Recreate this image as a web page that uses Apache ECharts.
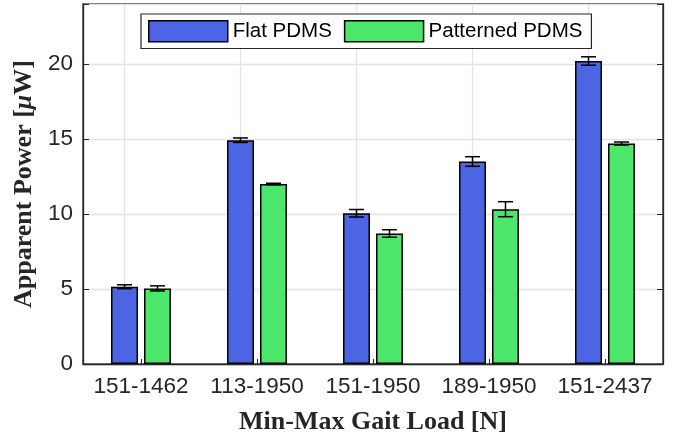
<!DOCTYPE html>
<html>
<head>
<meta charset="utf-8">
<script src="https://cdn.jsdelivr.net/npm/echarts@6/dist/echarts.min.js"></script>
<style>html,body{margin:0;padding:0;background:#fff}#c{width:682px;height:443px}</style>
</head>
<body>
<div id="c"></div>
<script>
var categories = ['151-1462', '113-1950', '151-1950', '189-1950', '151-2437'];
var flatValues = [5.15, 14.92, 10.05, 13.5, 20.2];
var flatErrors = [0.13, 0.15, 0.25, 0.32, 0.28];
var patternedValues = [5.04, 12.0, 8.7, 10.32, 14.7];
var patternedErrors = [0.17, 0.05, 0.25, 0.5, 0.1];
var seriesNames = ['Flat PDMS', 'Patterned PDMS'];
var yTicks = [0, 5, 10, 15, 20];

var BLUE = '#4B65E3', GREEN = '#4CE66B', INK = '#262626', GRID = '#E3E3E3';
var BAR_W = 27, BAR_GAP = 6;

function errData(vals, errs) {
  return vals.map(function (v, i) { return [i, v - errs[i], v + errs[i]]; });
}
function errSeries(vals, errs, sign) {
  return {
    type: 'custom',
    z: 5,
    silent: true,
    data: errData(vals, errs),
    encode: { x: 0, y: [1, 2] },
    renderItem: function (params, api) {
      var off = sign * (BAR_W + BAR_GAP) / 2;
      var lo = api.coord([api.value(0), api.value(1)]);
      var hi = api.coord([api.value(0), api.value(2)]);
      var x = lo[0] + off, cap = 7.5;
      var st = { stroke: '#000', lineWidth: 1.5, fill: null };
      return {
        type: 'group',
        children: [
          { type: 'line', shape: { x1: x, y1: lo[1], x2: x, y2: hi[1] }, style: st },
          { type: 'line', shape: { x1: x - cap, y1: lo[1], x2: x + cap, y2: lo[1] }, style: st },
          { type: 'line', shape: { x1: x - cap, y1: hi[1], x2: x + cap, y2: hi[1] }, style: st }
        ]
      };
    }
  };
}

var chart = echarts.init(document.getElementById('c'), null, { renderer: 'canvas' });
var labelFont = { fontFamily: 'Liberation Sans, Arial, sans-serif', fontSize: 22.5, color: INK };
var titleFont = 'Liberation Serif, Times New Roman, serif';
chart.setOption({
  animation: false,
  backgroundColor: '#fff',
  grid: { left: 83, right: 19, top: 4, bottom: 79, show: true, borderColor: INK, borderWidth: 1.3, backgroundColor: 'transparent' },
  legend: {
    data: seriesNames,
    icon: 'rect',
    left: 141, top: 14,
    padding: [6, 9, 6, 7],
    itemWidth: 79, itemHeight: 21, itemGap: 12,
    backgroundColor: '#fff', borderColor: INK, borderWidth: 1.2,
    textStyle: { fontFamily: 'Liberation Sans, Arial, sans-serif', fontSize: 20.5, color: '#000' },
    itemStyle: { borderColor: '#000', borderWidth: 1.5 }
  },
  xAxis: [{
    type: 'category',
    data: categories,
    name: 'Min-Max Gait Load [N]',
    nameLocation: 'middle',
    nameGap: 45,
    nameTextStyle: { fontFamily: titleFont, fontWeight: 'bold', fontSize: 26, color: INK },
    axisLine: { show: true, lineStyle: { color: INK, width: 1.3 } },
    axisTick: { show: true, inside: true, alignWithLabel: true, interval: 0, length: 5, lineStyle: { color: INK } },
    axisLabel: Object.assign({ margin: 11, interval: 0, hideOverlap: false }, labelFont),
    splitLine: { show: false }
  }],
  yAxis: [{
    type: 'value',
    min: 0, max: 24, interval: 5,
    name: 'Apparent Power [{it|μ}W]',
    nameLocation: 'middle',
    nameGap: 45,
    nameTextStyle: {
      fontFamily: titleFont, fontWeight: 'bold', fontSize: 26, color: INK,
      rich: { it: { fontFamily: titleFont, fontWeight: 'bold', fontStyle: 'italic', fontSize: 26, color: INK } }
    },
    axisLine: { show: true, lineStyle: { color: INK, width: 1.3 } },
    axisTick: { show: true, inside: true, length: 6, lineStyle: { color: INK } },
    axisLabel: Object.assign({ margin: 10, formatter: function (v) { return yTicks.indexOf(v) >= 0 ? String(v) : ''; } }, labelFont),
    splitLine: { show: true, lineStyle: { color: GRID, width: 1.3 } }
  }, {
    type: 'value',
    position: 'right',
    min: 0, max: 24, interval: 5,
    axisLine: { show: true, lineStyle: { color: INK, width: 1.3 } },
    axisTick: { show: true, inside: true, length: 6, lineStyle: { color: INK } },
    axisLabel: { show: false },
    splitLine: { show: false }
  }],
  series: [{
    name: seriesNames[0],
    type: 'bar',
    z: 3,
    data: flatValues,
    barWidth: BAR_W,
    barGap: (BAR_GAP / BAR_W * 100).toFixed(1) + '%',
    itemStyle: { color: BLUE, borderColor: '#000', borderWidth: 1.5 },
    markLine: {
      silent: true,
      z: 1,
      symbol: ['none', 'none'],
      label: { show: false },
      lineStyle: { color: GRID, width: 1.3, type: 'solid' },
      data: categories.map(function (c) { return { xAxis: c }; })
    }
  }, {
    name: seriesNames[1],
    type: 'bar',
    z: 3,
    data: patternedValues,
    barWidth: BAR_W,
    itemStyle: { color: GREEN, borderColor: '#000', borderWidth: 1.5 }
  },
  errSeries(flatValues, flatErrors, -1),
  errSeries(patternedValues, patternedErrors, 1)
  ]
});
</script>
</body>
</html>
